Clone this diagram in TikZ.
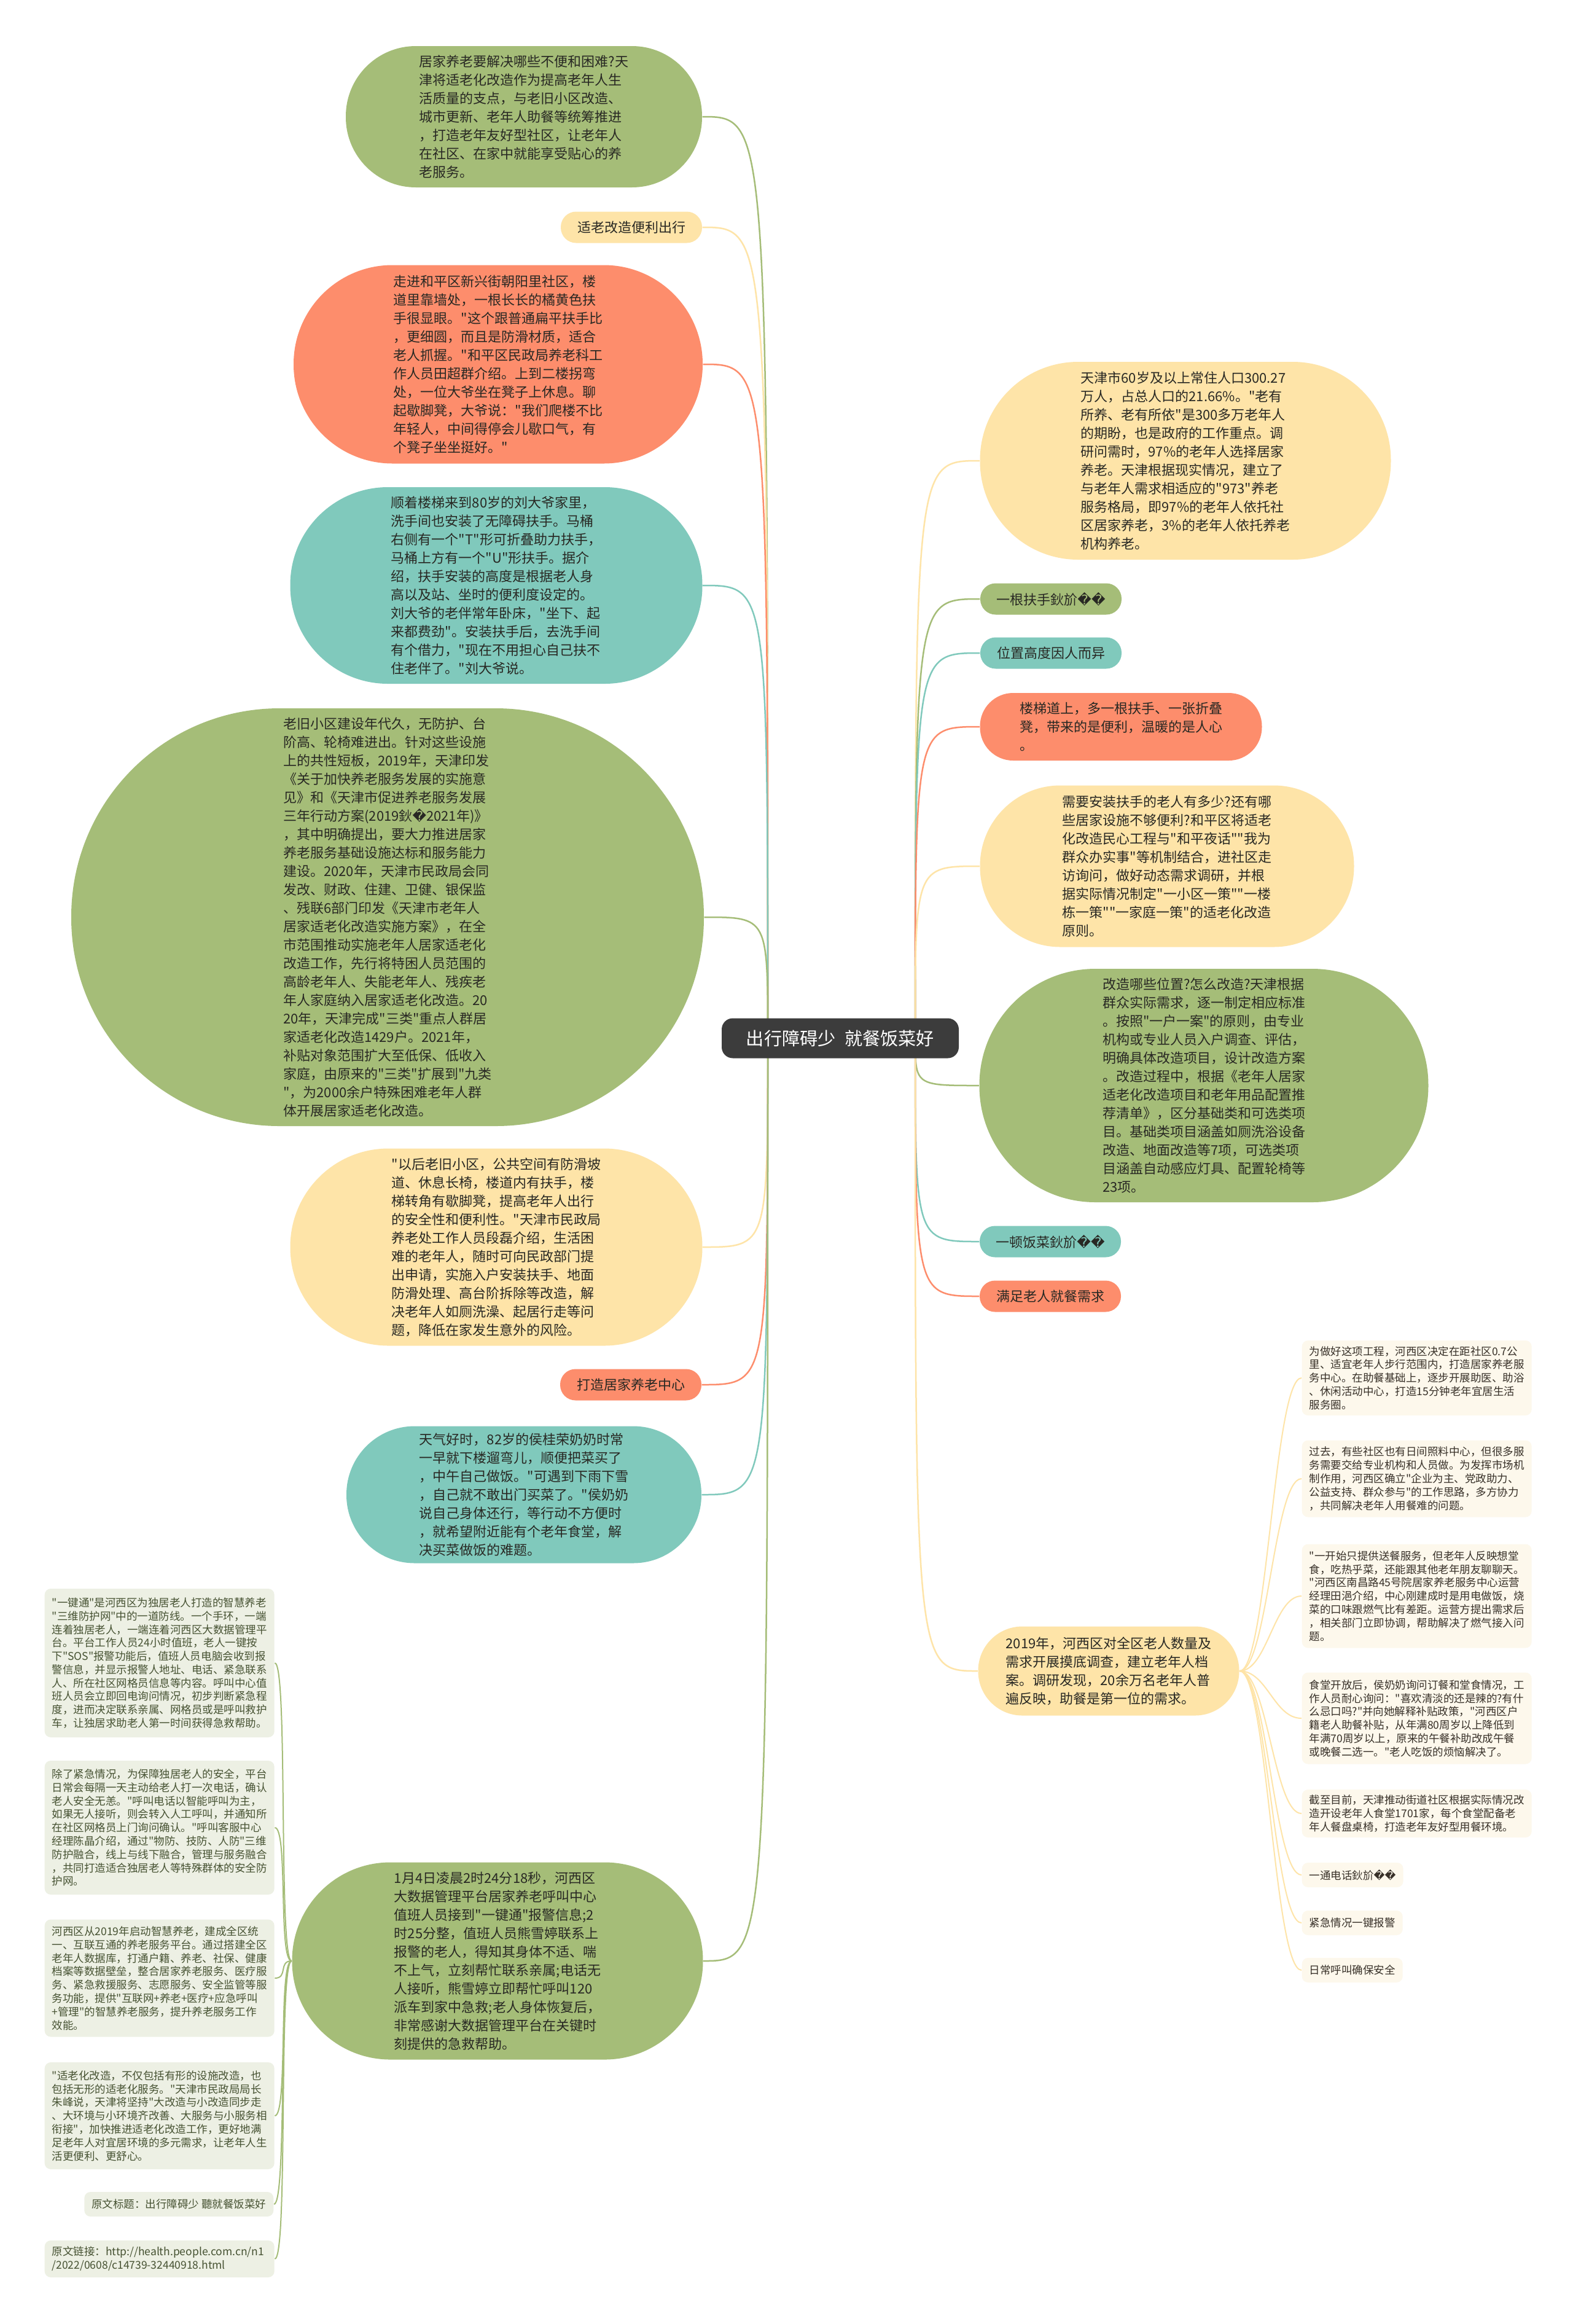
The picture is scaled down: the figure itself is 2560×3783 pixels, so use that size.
\documentclass[tikz,border=0pt]{standalone}
\usepackage{fontspec}
\setmainfont{Noto Sans CJK SC}[Ligatures=TeXOff]
\newfontfamily\dejavu{DejaVu Sans}
\usetikzlibrary{backgrounds}

\definecolor{cgreen}{RGB}{165,189,120}
\definecolor{cteal}{RGB}{128,201,188}
\definecolor{csalmon}{RGB}{253,141,108}
\definecolor{cyellow}{RGB}{254,228,168}
\definecolor{chub}{RGB}{60,60,60}
\definecolor{ink}{RGB}{40,40,35}
\definecolor{leafL}{RGB}{237,240,228}
\definecolor{leafR}{RGB}{253,248,236}
\definecolor{inkL}{RGB}{70,82,50}
\definecolor{inkR}{RGB}{55,48,40}

\newcommand{\bad}{{\dejavu\symbol{"FFFD}}}
\newcommand{\bubfont}{\fontsize{6.26pt}{8.54pt}\selectfont}
\newcommand{\leaffont}{\fontsize{4.98pt}{6.2pt}\selectfont}
\newcommand{\hubfont}{\fontsize{8.3pt}{10pt}\selectfont}

\begin{document}
\begin{tikzpicture}[
  x={(0.1mm,0)}, y={(0,-0.1mm)},
  bubble/.style={
    align=left,
    inner sep=0pt,
    font=\bubfont,
    text=ink
  },
  tag/.style={
    bubble,
    minimum width=23mm,
    minimum height=5.1mm,
    rounded corners=2.5mm
  },
  hub/.style={
    fill=chub,
    text=white,
    font=\hubfont,
    inner sep=0pt,
    minimum width=38.6mm,
    minimum height=6.5mm,
    rounded corners=1.8mm
  },
  leafl/.style={
    fill=leafL,
    text=inkL,
    font=\leaffont,
    align=left,
    inner xsep=1.2mm,
    inner ysep=0pt,
    rounded corners=1mm
  },
  leafr/.style={leafl, fill=leafR, text=inkR},
  conn/.style={draw=#1, line width=0.25mm},
  twig/.style={draw=#1, line width=0.2mm}
]

\useasboundingbox (0,0) rectangle (2560,3783);
\begin{scope}[on background layer]
  \fill[white] (0,0) rectangle (2560,3783);
\end{scope}

% central topic
\node[hub] (hub) at (1368,1690) {出行障碍少\enspace 就餐饭菜好};
\coordinate (hubL) at (1250,1690);
\coordinate (hubR) at (1490,1690);

% left branch
\node[bubble, fill=cgreen, minimum width=58mm, minimum height=23mm,
  rounded corners=11.4mm] (L1) at (853,190)
  {居家养老要解决哪些不便和困难?天\\
   津将适老化改造作为提高老年人生\\
   活质量的支点，与老旧小区改造、\\
   城市更新、老年人助餐等统筹推进\\
   ，打造老年友好型社区，让老年人\\
   在社区、在家中就能享受贴心的养\\
   老服务。};

\node[tag, fill=cyellow] (L2) at (1028,370) {适老改造便利出行};

\node[bubble, fill=csalmon, minimum width=66.6mm, minimum height=32.3mm,
  rounded corners=16.1mm] (L3) at (811,593)
  {走进和平区新兴街朝阳里社区，楼\\
   道里靠墙处，一根长长的橘黄色扶\\
   手很显眼。"这个跟普通扁平扶手比\\
   ，更细圆，而且是防滑材质，适合\\
   老人抓握。"和平区民政局养老科工\\
   作人员田超群介绍。上到二楼拐弯\\
   处，一位大爷坐在凳子上休息。聊\\
   起歇脚凳，大爷说："我们爬楼不比\\
   年轻人，中间得停会儿歇口气，有\\
   个凳子坐坐挺好。"};

\node[bubble, fill=cteal, minimum width=67.1mm, minimum height=32mm,
  rounded corners=15.9mm] (L4) at (808,953)
  {顺着楼梯来到80岁的刘大爷家里，\\
   洗手间也安装了无障碍扶手。马桶\\
   右侧有一个"T"形可折叠助力扶手，\\
   马桶上方有一个"U"形扶手。据介\\
   绍，扶手安装的高度是根据老人身\\
   高以及站、坐时的便利度设定的。\\
   刘大爷的老伴常年卧床，"坐下、起\\
   来都费劲"。安装扶手后，去洗手间\\
   有个借力，"现在不用担心自己扶不\\
   住老伴了。"刘大爷说。};

\node[bubble, fill=cgreen, minimum width=103mm, minimum height=68mm,
  rounded corners=33.9mm] (L5) at (631,1493)
  {老旧小区建设年代久，无防护、台\\
   阶高、轮椅难进出。针对这些设施\\
   上的共性短板，2019年，天津印发\\
   《关于加快养老服务发展的实施意\\
   见》和《天津市促进养老服务发展\\
   三年行动方案(2019鈥\bad{}2021年)》\\
   ，其中明确提出，要大力推进居家\\
   养老服务基础设施达标和服务能力\\
   建设。2020年，天津市民政局会同\\
   发改、财政、住建、卫健、银保监\\
   、残联6部门印发《天津市老年人\\
   居家适老化改造实施方案》，在全\\
   市范围推动实施老年人居家适老化\\
   改造工作，先行将特困人员范围的\\
   高龄老年人、失能老年人、残疾老\\
   年人家庭纳入居家适老化改造。20\\
   20年，天津完成"三类"重点人群居\\
   家适老化改造1429户。2021年，\\
   补贴对象范围扩大至低保、低收入\\
   家庭，由原来的"三类"扩展到"九类\\
   "，为2000余户特殊困难老年人群\\
   体开展居家适老化改造。};

\node[bubble, fill=cyellow, minimum width=67.1mm, minimum height=32.1mm,
  rounded corners=16mm] (L6) at (808,2030)
  {"以后老旧小区，公共空间有防滑坡\\
   道、休息长椅，楼道内有扶手，楼\\
   梯转角有歇脚凳，提高老年人出行\\
   的安全性和便利性。"天津市民政局\\
   养老处工作人员段磊介绍，生活困\\
   难的老年人，随时可向民政部门提\\
   出申请，实施入户安装扶手、地面\\
   防滑处理、高台阶拆除等改造，解\\
   决老年人如厕洗澡、起居行走等问\\
   题，降低在家发生意外的风险。};

\node[tag, fill=csalmon] (L7) at (1027,2254) {打造居家养老中心};

\node[bubble, fill=cteal, minimum width=57.8mm, minimum height=22.3mm,
  rounded corners=11.1mm] (L8) at (853,2433)
  {天气好时，82岁的侯桂荣奶奶时常\\
   一早就下楼遛弯儿，顺便把菜买了\\
   ，中午自己做饭。"可遇到下雨下雪\\
   ，自己就不敢出门买菜了。"侯奶奶\\
   说自己身体还行，等行动不方便时\\
   ，就希望附近能有个老年食堂，解\\
   决买菜做饭的难题。};

\node[bubble, fill=cgreen, minimum width=66.9mm, minimum height=32.1mm,
  rounded corners=16mm] (L9) at (810,3192)
  {1月4日凌晨2时24分18秒，河西区\\
   大数据管理平台居家养老呼叫中心\\
   值班人员接到"一键通"报警信息;2\\
   时25分整，值班人员熊雪婷联系上\\
   报警的老人，得知其身体不适、喘\\
   不上气，立刻帮忙联系亲属;电话无\\
   人接听，熊雪婷立即帮忙呼叫120\\
   派车到家中急救;老人身体恢复后，\\
   非常感谢大数据管理平台在关键时\\
   刻提供的急救帮助。};

% details of the call platform
\node[leafl, anchor=west, text width=35mm, minimum height=24.2mm] (LC1) at (72,2707)
  {"一键通"是河西区为独居老人打造的智慧养老\\
   "三维防护网"中的一道防线。一个手环，一端\\
   连着独居老人，一端连着河西区大数据管理平\\
   台。平台工作人员24小时值班，老人一键按\\
   下"SOS"报警功能后，值班人员电脑会收到报\\
   警信息，并显示报警人地址、电话、紧急联系\\
   人、所在社区网格员信息等内容。呼叫中心值\\
   班人员会立即回电询问情况，初步判断紧急程\\
   度，进而决定联系亲属、网格员或是呼叫救护\\
   车，让独居求助老人第一时间获得急救帮助。};

\node[leafl, anchor=west, text width=35mm, minimum height=21.8mm] (LC2) at (72,2975)
  {除了紧急情况，为保障独居老人的安全，平台\\
   日常会每隔一天主动给老人打一次电话，确认\\
   老人安全无恙。"呼叫电话以智能呼叫为主，\\
   如果无人接听，则会转入人工呼叫，并通知所\\
   在社区网格员上门询问确认。"呼叫客服中心\\
   经理陈晶介绍，通过"物防、技防、人防"三维\\
   防护融合，线上与线下融合，管理与服务融合\\
   ，共同打造适合独居老人等特殊群体的安全防\\
   护网。};

\node[leafl, anchor=west, text width=35mm, minimum height=19.1mm] (LC3) at (72,3220)
  {河西区从2019年启动智慧养老，建成全区统\\
   一、互联互通的养老服务平台。通过搭建全区\\
   老年人数据库，打通户籍、养老、社保、健康\\
   档案等数据壁垒，整合居家养老服务、医疗服\\
   务、紧急救援服务、志愿服务、安全监管等服\\
   务功能，提供"互联网+养老+医疗+应急呼叫\\
   +管理"的智慧养老服务，提升养老服务工作\\
   效能。};

\node[leafl, anchor=west, text width=35mm, minimum height=17.4mm] (LC4) at (72,3444)
  {"适老化改造，不仅包括有形的设施改造，也\\
   包括无形的适老化服务。"天津市民政局局长\\
   朱峰说，天津将坚持"大改造与小改造同步走\\
   、大环境与小环境齐改善、大服务与小服务相\\
   衔接"，加快推进适老化改造工作，更好地满\\
   足老年人对宜居环境的多元需求，让老年人生\\
   活更便利、更舒心。};

\node[leafl, anchor=east, minimum height=4mm] (LC5) at (446,3588)
  {原文标题：出行障碍少 聽就餐饭菜好};

\node[leafl, anchor=west, text width=35mm, minimum height=6mm] (LC6) at (72,3677)
  {原文链接：http://health.people.com.cn/n1\\
   /2022/0608/c14739-32440918.html};

% right branch
\node[bubble, fill=cyellow, minimum width=66.9mm, minimum height=32.2mm,
  rounded corners=16mm] (R1) at (1930,750)
  {天津市60岁及以上常住人口300.27\\
   万人，占总人口的21.66\%。"老有\\
   所养、老有所依"是300多万老年人\\
   的期盼，也是政府的工作重点。调\\
   研问需时，97\%的老年人选择居家\\
   养老。天津根据现实情况，建立了\\
   与老年人需求相适应的"973"养老\\
   服务格局，即97\%的老年人依托社\\
   区居家养老，3\%的老年人依托养老\\
   机构养老。};

\node[tag, fill=cgreen] (R2) at (1711,975) {一根扶手鈥斺\bad\bad};

\node[tag, fill=cteal] (R3) at (1711,1063) {位置高度因人而异};

\node[bubble, fill=csalmon, minimum width=45.9mm, minimum height=11mm,
  rounded corners=5.4mm] (R4) at (1825,1183)
  {楼梯道上，多一根扶手、一张折叠\\
   凳，带来的是便利，温暖的是人心\\
   。};

\node[bubble, fill=cyellow, minimum width=60.9mm, minimum height=26.3mm,
  rounded corners=13.1mm] (R5) at (1900,1410)
  {需要安装扶手的老人有多少?还有哪\\
   些居家设施不够便利?和平区将适老\\
   化改造民心工程与"和平夜话""我为\\
   群众办实事"等机制结合，进社区走\\
   访询问，做好动态需求调研，并根\\
   据实际情况制定"一小区一策""一楼\\
   栋一策""一家庭一策"的适老化改造\\
   原则。};

\node[bubble, fill=cgreen, minimum width=73.1mm, minimum height=38mm,
  rounded corners=18.9mm] (R6) at (1960,1767)
  {改造哪些位置?怎么改造?天津根据\\
   群众实际需求，逐一制定相应标准\\
   。按照"一户一案"的原则，由专业\\
   机构或专业人员入户调查、评估，\\
   明确具体改造项目，设计改造方案\\
   。改造过程中，根据《老年人居家\\
   适老化改造项目和老年用品配置推\\
   荐清单》，区分基础类和可选类项\\
   目。基础类项目涵盖如厕洗浴设备\\
   改造、地面改造等7项，可选类项\\
   目涵盖自动感应灯具、配置轮椅等\\
   23项。};

\node[tag, fill=cteal] (R7) at (1710,2021) {一顿饭菜鈥斺\bad\bad};

\node[tag, fill=csalmon] (R8) at (1710,2110) {满足老人就餐需求};

\node[bubble, fill=cyellow, minimum width=42.5mm, minimum height=14.5mm,
  rounded corners=7.2mm] (R9) at (1805,2720)
  {2019年，河西区对全区老人数量及\\
   需求开展摸底调查，建立老年人档\\
   案。调研发现，20余万名老年人普\\
   遍反映，助餐是第一位的需求。};

% details of the canteens
\node[leafr, anchor=west, text width=35mm, minimum height=12.2mm] (RC1) at (2119,2243)
  {为做好这项工程，河西区决定在距社区0.7公\\
   里、适宜老年人步行范围内，打造居家养老服\\
   务中心。在助餐基础上，逐步开展助医、助浴\\
   、休闲活动中心，打造15分钟老年宜居生活\\
   服务圈。};

\node[leafr, anchor=west, text width=35mm, minimum height=12.5mm] (RC2) at (2119,2407)
  {过去，有些社区也有日间照料中心，但很多服\\
   务需要交给专业机构和人员做。为发挥市场机\\
   制作用，河西区确立"企业为主、党政助力、\\
   公益支持、群众参与"的工作思路，多方协力\\
   ，共同解决老年人用餐难的问题。};

\node[leafr, anchor=west, text width=35mm, minimum height=16.9mm] (RC3) at (2119,2598)
  {"一开始只提供送餐服务，但老年人反映想堂\\
   食，吃热乎菜，还能跟其他老年朋友聊聊天。\\
   "河西区南昌路45号院居家养老服务中心运营\\
   经理田浥介绍，中心刚建成时是用电做饭，烧\\
   菜的口味跟燃气比有差距。运营方提出需求后\\
   ，相关部门立即协调，帮助解决了燃气接入问\\
   题。};

\node[leafr, anchor=west, text width=35mm, minimum height=14.9mm] (RC4) at (2119,2797)
  {食堂开放后，侯奶奶询问订餐和堂食情况，工\\
   作人员耐心询问："喜欢清淡的还是辣的?有什\\
   么忌口吗?"并向她解释补贴政策，"河西区户\\
   籍老人助餐补贴，从年满80周岁以上降低到\\
   年满70周岁以上，原来的午餐补助改成午餐\\
   或晚餐二选一。"老人吃饭的烦恼解决了。};

\node[leafr, anchor=west, text width=35mm, minimum height=7.8mm] (RC5) at (2119,2952)
  {截至目前，天津推动街道社区根据实际情况改\\
   造开设老年人食堂1701家，每个食堂配备老\\
   年人餐盘桌椅，打造老年友好型用餐环境。};

\node[leafr, anchor=west, minimum width=15.7mm, minimum height=4mm] (RC6) at (2119,3052)
  {一通电话鈥斺\bad\bad};
\node[leafr, anchor=west, minimum width=15.7mm, minimum height=4mm] (RC7) at (2119,3130)
  {紧急情况一键报警};
\node[leafr, anchor=west, minimum width=15.7mm, minimum height=4mm] (RC8) at (2119,3207)
  {日常呼叫确保安全};

% connectors
\begin{scope}[on background layer]
  \foreach \n/\c in {L1/cgreen, L2/cyellow, L3/csalmon, L4/cteal, L5/cgreen,
                     L6/cyellow, L7/csalmon, L8/cteal, L9/cgreen}
    \draw[conn=\c] (hubL) .. controls (hubL |- \n.east) .. (\n.east);
  \foreach \n/\c in {R1/cyellow, R2/cgreen, R3/cteal, R4/csalmon, R5/cyellow,
                     R6/cgreen, R7/cteal, R8/csalmon, R9/cyellow}
    \draw[conn=\c] (hubR) .. controls (hubR |- \n.west) .. (\n.west);
  \foreach \n in {LC1,LC2,LC3,LC4,LC5,LC6}
    \draw[twig=cgreen] (L9.west) .. controls +(-22,0) and +(22,0) .. (\n.east);
  \foreach \n in {RC1,RC2,RC3,RC4,RC5,RC6,RC7,RC8}
    \draw[twig=cyellow] (R9.east) .. controls +(45,0) and +(-45,0) .. (\n.west);
\end{scope}

\end{tikzpicture}
\end{document}
